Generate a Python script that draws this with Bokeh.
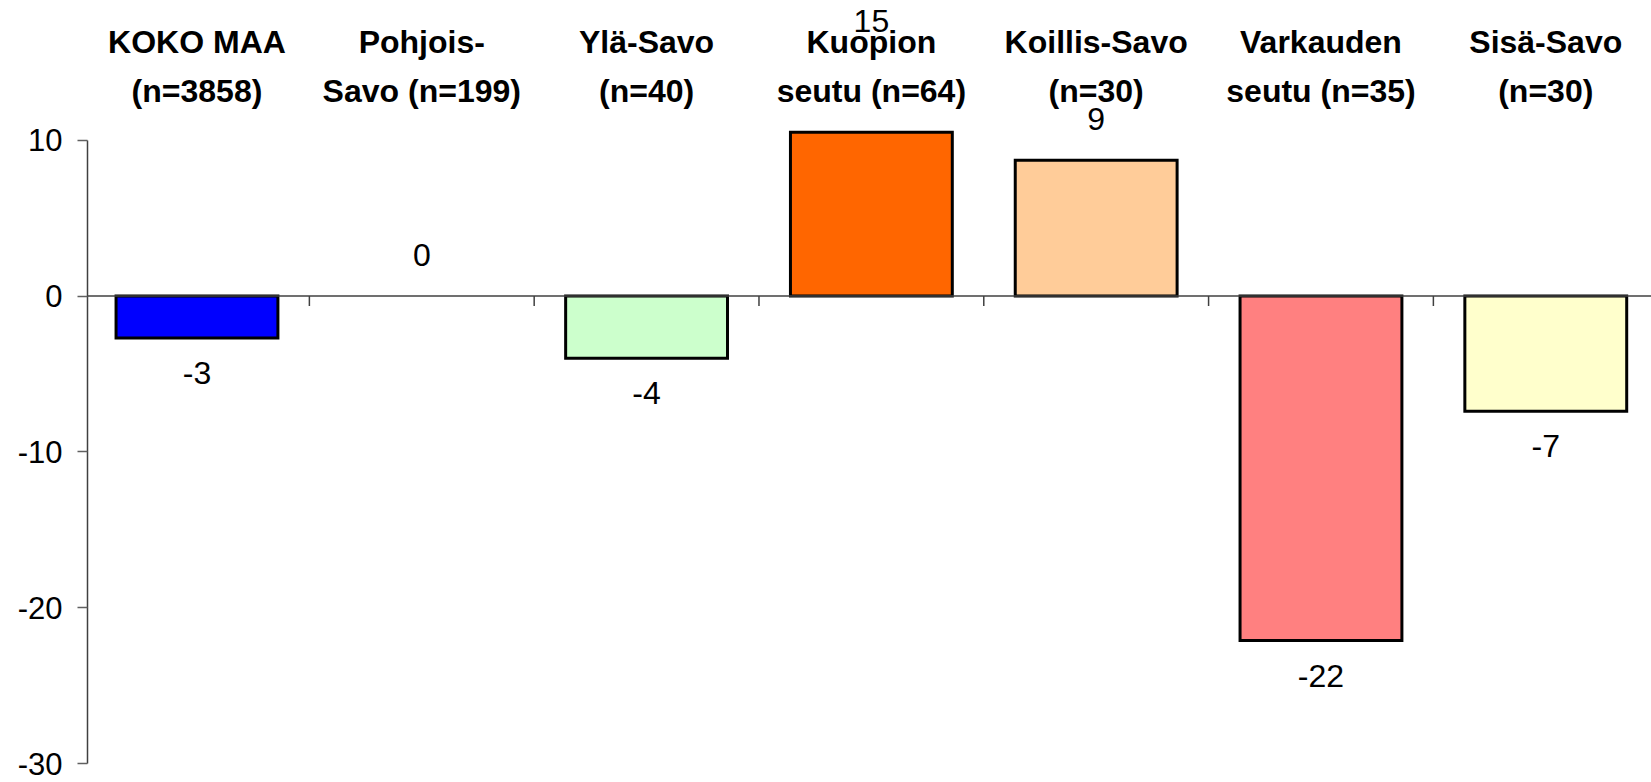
import numpy as np
from bokeh.plotting import figure
from bokeh.models import Range1d, FixedTicker, Span, ColumnDataSource
from bokeh.core.properties import value
from bokeh.embed import file_html
from bokeh.resources import INLINE

# ---- data ----
categories = ["KOKO MAA\n(n=3858)", "Pohjois-\nSavo (n=199)", "Ylä-Savo\n(n=40)",
              "Kuopion\nseutu (n=64)", "Koillis-Savo\n(n=30)", "Varkauden\nseutu (n=35)",
              "Sisä-Savo\n(n=30)"]
values = [-2.7, 0.0, -4.0, 15.0, 8.7, -22.1, -7.4]
value_labels = ["-3", "0", "-4", "15", "9", "-22", "-7"]
colors = ["#0000FF", "#9999FF", "#CCFFCC", "#FF6600", "#FFCC99", "#FF8080", "#FFFFCC"]
y_ticks = [-30, -20, -10, 0, 10]
y_tick_labels = ["-30", "-20", "-10", "0", "10"]

# ---- geometry ----
W, H = 1651, 782
PX = 15.59                  # pixels per unit on the value axis
Y1 = 10 + 139.6 / PX
Y0 = Y1 - H / PX
LEFT = 87
X0 = 0.013
X1 = X0 + (W - LEFT) / 224.8
AXIS_MAX = 10
CLIP = 10.5                 # top of the plot area (bars are cut here)
FONT = "Liberation Sans"

def y_px(px):
    return Y1 - px / PX

n = len(categories)
xs = np.arange(n) + 0.5

p = figure(width=W, height=H, output_backend="svg", toolbar_location=None,
           x_range=Range1d(X0, X1), y_range=Range1d(Y0, Y1),
           x_axis_location=None, min_border_left=LEFT, min_border_right=0,
           min_border_top=0, min_border_bottom=0)
p.outline_line_color = None
p.grid.visible = False
p.background_fill_color = "white"

ax = p.yaxis[0]
ax.ticker = FixedTicker(ticks=y_ticks)
ax.major_label_overrides = {t: s for t, s in zip(y_ticks, y_tick_labels)}
ax.bounds = (-30, AXIS_MAX)
ax.major_tick_out = 10
ax.major_tick_in = 0
ax.minor_tick_line_color = None
ax.axis_line_color = "#404040"
ax.axis_line_width = 1.5
ax.major_tick_line_color = "#606060"
ax.major_tick_line_width = 1.5
ax.major_label_standoff = 15
ax.major_label_text_font = FONT
ax.major_label_text_font_size = "31px"
ax.major_label_text_line_height = 1.0
ax.major_label_text_color = "black"

# zero line
p.add_layout(Span(location=0, dimension="width", line_color="#404040", line_width=1.5))

# category boundary ticks on the zero line
bx = np.arange(1, n)
p.segment(x0=bx, y0=np.zeros(len(bx)), x1=bx, y1=np.full(len(bx), -10 / PX),
          line_color="#404040", line_width=1.5)

vals = np.array(values)
src = ColumnDataSource(dict(
    x=xs, top=np.minimum(vals, CLIP), color=colors,
    line=["black" if v != 0 else None for v in values],
))
p.vbar(x="x", top="top", bottom=0, width=0.72, source=src,
       fill_color="color", line_color="line", line_width=3, line_join="miter")

# data labels
lsrc = ColumnDataSource(dict(
    x=xs, y=vals, t=value_labels,
    off=[-41 if v >= 0 else 35 for v in values],
))
p.text(x="x", y="y", text="t", y_offset="off", source=lsrc,
       text_align="center", text_baseline="middle",
       text_font=value(FONT), text_font_size="32px", text_color="black")

# category labels on top
csrc = ColumnDataSource(dict(x=xs, y=np.full(n, y_px(66)), t=categories))
p.text(x="x", y="y", text="t", source=csrc, text_align="center",
       text_baseline="middle", text_font=value(FONT), text_font_size="32px",
       text_font_style="bold", text_line_height=1.36, text_color="black")

open("out.html", "w").write(file_html(p, INLINE))
